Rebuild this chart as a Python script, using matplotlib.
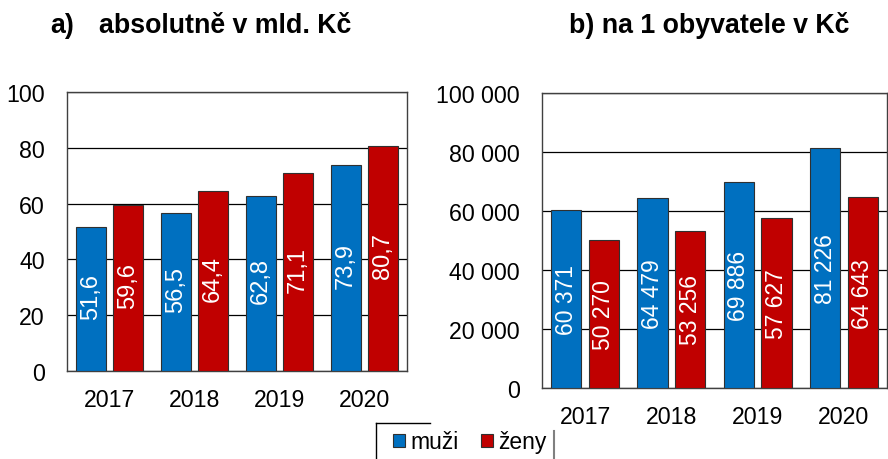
import matplotlib
matplotlib.use("Agg")
import matplotlib.pyplot as plt
import numpy as np
from matplotlib.lines import Line2D
from matplotlib.patches import Patch

plt.rcParams['font.family'] = ['Liberation Sans', 'DejaVu Sans']

# data
years = ["2017", "2018", "2019", "2020"]
muzi_abs = [51.6, 56.5, 62.8, 73.9]
zeny_abs = [59.6, 64.4, 71.1, 80.7]
muzi_obyv = [60371, 64479, 69886, 81226]
zeny_obyv = [50270, 53256, 57627, 64643]

BLUE = "#0070C0"
RED = "#C00000"
W, H = 888, 460

fig = plt.figure(figsize=(W / 100, H / 100), dpi=100)

ax1 = fig.add_axes([67 / W, (H - 372) / H, 340 / W, 279 / H])
ax2 = fig.add_axes([542 / W, (H - 389) / H, 345 / W, 295 / H])


def fmt_cz_dec(v):
    return f"{v:.1f}".replace(".", ",")


def fmt_cz_int(v):
    return f"{int(round(v)):,}".replace(",", " ")


def draw_panel(ax, muzi, zeny, ymax, step, fmt_tick, fmt_val, val_size, val_shift):
    x = np.arange(len(years))
    off, w = 0.218, 0.35
    b1 = ax.bar(x - off, muzi, w, color=BLUE, edgecolor="#303030", linewidth=0.8, zorder=3)
    b2 = ax.bar(x + off, zeny, w, color=RED, edgecolor="#303030", linewidth=0.8, zorder=3)
    for bars, vals in ((b1, muzi), (b2, zeny)):
        for b, v in zip(bars, vals):
            ax.text(b.get_x() + b.get_width() / 2, v / 2 + val_shift * ymax, fmt_val(v),
                    rotation=90, ha="center", va="center", color="white",
                    fontsize=val_size, zorder=4)
    ax.set_xlim(-0.5, len(years) - 0.5)
    ax.set_ylim(0, ymax)
    ticks = np.arange(0, ymax + step / 2, step)
    ax.set_yticks(ticks)
    ax.set_yticklabels([fmt_tick(t) for t in ticks])
    ax.set_xticks(x)
    ax.set_xticklabels(years)
    ax.tick_params(axis="y", length=0, pad=16, labelsize=16.7)
    ax.tick_params(axis="x", length=0, pad=12, labelsize=16.7)
    ax.yaxis.grid(True, color="black", linewidth=0.9, zorder=0)
    ax.set_axisbelow(True)
    for s in ax.spines.values():
        s.set_color("#404040")
        s.set_linewidth(1.0)


draw_panel(ax1, muzi_abs, zeny_abs, 100, 20, lambda t: f"{int(t)}", fmt_cz_dec, 17, 0.011)
draw_panel(ax2, muzi_obyv, zeny_obyv, 100000, 20000, fmt_cz_int, fmt_cz_int, 16.5, 0.0)

# titles
fig.text(50 / W, (H - 33) / H, "a)", fontsize=19.3, fontweight="bold", va="baseline")
fig.text(99 / W, (H - 33) / H, "absolutně v mld. Kč", fontsize=19.3, fontweight="bold", va="baseline")
fig.text(709 / W, (H - 33) / H, "b) na 1 obyvatele v Kč", fontsize=19.3, fontweight="bold",
         va="baseline", ha="center")

# legend
handles = [Patch(facecolor=BLUE, edgecolor="#303030", linewidth=0.8),
           Patch(facecolor=RED, edgecolor="#303030", linewidth=0.8)]
fig.legend(handles, ["muži", "ženy"], loc="center", bbox_to_anchor=(470 / W, (H - 443) / H),
           ncol=2, frameon=False, fontsize=16.5, handlelength=0.5, handleheight=0.5,
           handletextpad=0.25, columnspacing=1.0, borderaxespad=0)
fig.add_artist(Line2D([376 / W, 376 / W], [0, (H - 424) / H], color="black", linewidth=1.0))
fig.add_artist(Line2D([376 / W, 430 / W], [(H - 424) / H, (H - 424) / H], color="black", linewidth=1.0))
fig.add_artist(Line2D([554 / W, 554 / W], [0, (H - 432) / H], color="#808080", linewidth=1.5))

fig.savefig("out.png", dpi=100)
